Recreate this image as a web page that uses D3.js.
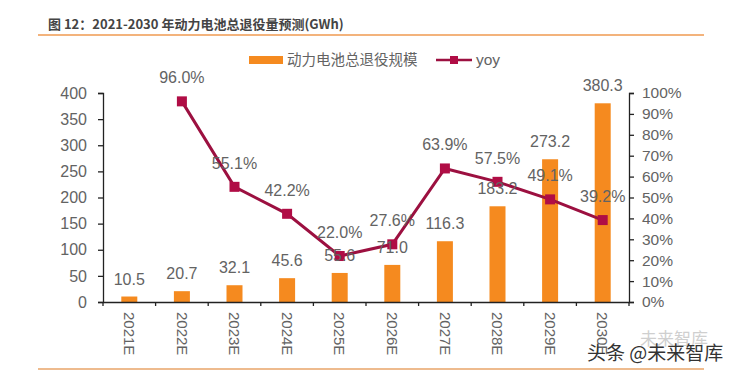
<!DOCTYPE html>
<html>
<head>
<meta charset="utf-8">
<script src="https://cdn.jsdelivr.net/npm/d3@7"></script>
<style>
  html, body { margin: 0; background: #fff; }
  text { font-family: "Liberation Sans", Arial, sans-serif; fill: #636363; }
  .cjk { font-family: "Noto Sans CJK SC", sans-serif; }
  .axis path, .axis line { stroke: #222; stroke-width: 1.3; }
</style>
</head>
<body>
<div id="chart"></div>
<script>
const YEARS = ["2021E","2022E","2023E","2024E","2025E","2026E","2027E","2028E","2029E","2030E"];
const VOLUME = [10.5,20.7,32.1,45.6,55.6,71.0,116.3,183.2,273.2,380.3];
const YOY = [null,96.0,55.1,42.2,22.0,27.6,63.9,57.5,49.1,39.2];
const LEFT_TICKS = [0,50,100,150,200,250,300,350,400];
const RIGHT_TICKS = [0,10,20,30,40,50,60,70,80,90,100];

const W = 732, H = 373;
const MARGIN = { top: 93, right: 103, bottom: 71, left: 103 };
const iW = W - MARGIN.left - MARGIN.right;
const iH = H - MARGIN.top - MARGIN.bottom;
const ORANGE = "#f58a1f", WINE = "#9c1040", LINE = "#e8a468";

const svg = d3.select("#chart").append("svg").attr("width",W).attr("height",H);

// Title + rules
svg.append("text").attr("class","cjk").attr("x",48).attr("y",29)
  .attr("font-size","13px").attr("font-weight",700).style("fill","#444")
  .text("图 12：2021-2030 年动力电池总退役量预测(GWh)");
svg.append("line").attr("x1",38).attr("x2",704).attr("y1",35).attr("y2",35)
  .attr("stroke","#ef9a50").attr("stroke-width",1.5);
svg.append("line").attr("x1",38).attr("x2",704).attr("y1",369).attr("y2",369)
  .attr("stroke",LINE).attr("stroke-width",1.5);

const g = svg.append("g").attr("transform",`translate(${MARGIN.left},${MARGIN.top})`);

const x = d3.scaleBand().domain(YEARS).range([0,iW]);
const yL = d3.scaleLinear().domain([0,400]).range([iH,0]);
const yR = d3.scaleLinear().domain([0,100]).range([iH,0]);

// Bars
g.selectAll(".bar").data(YEARS).join("rect").attr("class","bar")
  .attr("x",d=>x(d)+x.bandwidth()/2-8).attr("width",16)
  .attr("y",(d,i)=>yL(VOLUME[i])).attr("height",(d,i)=>iH-yL(VOLUME[i]))
  .attr("fill",ORANGE);

// Axes
const axL = g.append("g").attr("class","axis")
  .call(d3.axisLeft(yL).tickValues(LEFT_TICKS).tickSize(5).tickSizeOuter(5));
const axR = g.append("g").attr("class","axis").attr("transform",`translate(${iW},0)`)
  .call(d3.axisRight(yR).tickValues(RIGHT_TICKS).tickFormat(d=>d+"%").tickSize(5).tickSizeOuter(5));
const axB = g.append("g").attr("class","axis").attr("transform",`translate(0,${iH})`)
  .call(d3.axisBottom(x).tickSize(0));
// category separators
g.selectAll(".sep").data(d3.range(YEARS.length+1)).join("line").attr("class","sep")
  .attr("x1",i=>iW*i/YEARS.length).attr("x2",i=>iW*i/YEARS.length)
  .attr("y1",iH).attr("y2",iH+4).attr("stroke","#222").attr("stroke-width",1.3);

axL.selectAll("text").attr("font-size","16px").attr("x",-16);
axR.selectAll("text").attr("font-size","15.5px").attr("x",13);
axB.selectAll("text").attr("font-size","15px")
  .attr("transform","rotate(90)").attr("text-anchor","start").attr("x",10).attr("y",0).attr("dy","0.35em");

// yoy line
const pts = YEARS.map((d,i)=>({d,v:YOY[i]})).filter(p=>p.v!=null);
const lineGen = d3.line().x(p=>x(p.d)+x.bandwidth()/2).y(p=>yR(p.v));
g.append("path").datum(pts).attr("fill","none").attr("stroke",WINE).attr("stroke-width",3).attr("d",lineGen);
g.selectAll(".pt").data(pts).join("rect").attr("class","pt")
  .attr("x",p=>x(p.d)+x.bandwidth()/2-5).attr("y",p=>yR(p.v)-5)
  .attr("width",10).attr("height",10).attr("fill","#b00d45");

// Value labels
g.selectAll(".lab-v").data(YEARS).join("text").attr("class","lab-v")
  .attr("x",d=>x(d)+x.bandwidth()/2).attr("y",(d,i)=>yL(VOLUME[i])-12)
  .attr("text-anchor","middle").attr("font-size","16px")
  .text((d,i)=>VOLUME[i].toFixed(1));
g.selectAll(".lab-y").data(pts).join("text").attr("class","lab-y")
  .attr("x",p=>x(p.d)+x.bandwidth()/2).attr("y",p=>yR(p.v)-18)
  .attr("text-anchor","middle").attr("font-size","16px")
  .text(p=>p.v.toFixed(1)+"%");

// Legend
svg.append("rect").attr("x",249).attr("y",56).attr("width",34).attr("height",8).attr("fill",ORANGE);
svg.append("text").attr("class","cjk").attr("x",287).attr("y",65).attr("font-size","14.5px").text("动力电池总退役规模");
svg.append("line").attr("x1",436).attr("x2",472).attr("y1",60).attr("y2",60).attr("stroke",WINE).attr("stroke-width",2.5);
svg.append("rect").attr("x",450).attr("y",56).attr("width",8).attr("height",8).attr("fill","#b00d45");
svg.append("text").attr("x",476).attr("y",65).attr("font-size","15.5px").text("yoy");

// Watermark
svg.append("text").attr("class","cjk").attr("x",640).attr("y",345).attr("font-size","17px")
  .attr("opacity",.3).text("未来智库");
svg.append("text").attr("class","cjk").attr("x",587).attr("y",360).attr("font-size","19px")
  .style("fill","#333").text("头条 @未来智库");
</script>
</body>
</html>
